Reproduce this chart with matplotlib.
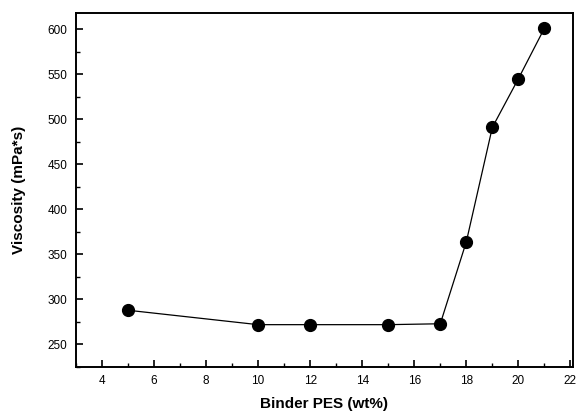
import matplotlib
matplotlib.use("Agg")
import matplotlib.pyplot as plt
from matplotlib.ticker import MultipleLocator

binder = [5, 10, 12, 15, 17, 18, 19, 20, 21]
viscosity = [288, 272, 272, 272, 273, 364, 491, 545, 601]
xticks = [4, 6, 8, 10, 12, 14, 16, 18, 20, 22]
yticks = [250, 300, 350, 400, 450, 500, 550, 600]

plt.rcParams['font.family'] = ['Liberation Sans', 'DejaVu Sans']
fig = plt.figure(figsize=(5.8, 4.16), dpi=100)
ax = fig.add_axes([76/580, 1-367/416, (573-76)/580, (367-13)/416])
ax.plot(binder, viscosity, color='black', lw=0.9, marker='o', ms=8.5,
        markerfacecolor='black', markeredgecolor='black')
ax.set_xlim(3, 22.1)
ax.set_ylim(225, 618)
ax.set_xticks(xticks)
ax.set_yticks(yticks)
ax.xaxis.set_minor_locator(MultipleLocator(1))
ax.yaxis.set_minor_locator(MultipleLocator(25))
ax.tick_params(which='major', direction='in', length=5, width=1.2, labelsize=8.5, pad=6)
ax.tick_params(which='minor', direction='in', length=3, width=1)
for s in ax.spines.values():
    s.set_linewidth(1.4)
ax.set_xlabel('Binder PES (wt%)', fontsize=11, fontweight='bold', labelpad=7)
ax.set_ylabel('Viscosity (mPa*s)', fontsize=11, fontweight='bold', labelpad=16)
fig.savefig('out.png', dpi=100)
